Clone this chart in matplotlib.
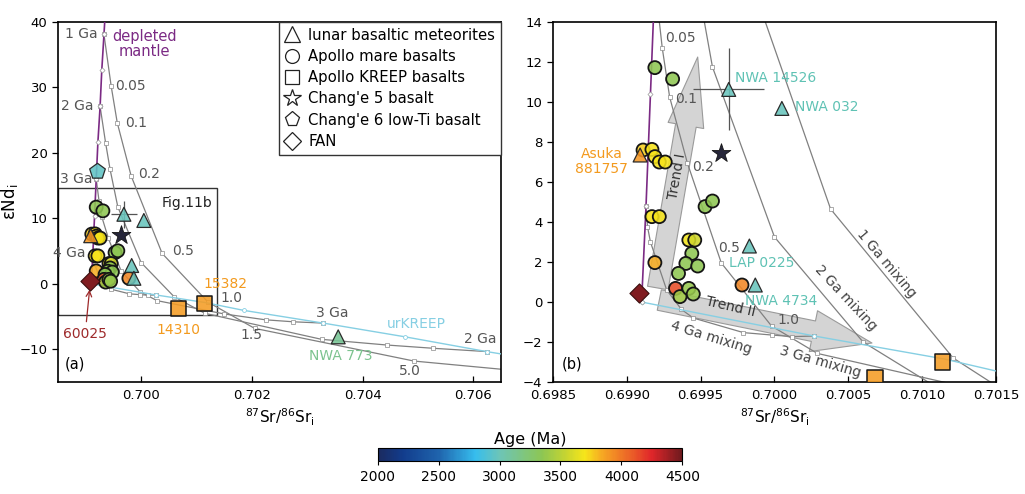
import numpy as np
import matplotlib
matplotlib.use("Agg")
import matplotlib.pyplot as plt
from matplotlib.colors import LinearSegmentedColormap, Normalize
from matplotlib.cm import ScalarMappable
from matplotlib.lines import Line2D
from matplotlib.patches import Rectangle
from matplotlib.ticker import FormatStrFormatter

plt.rcParams['font.family'] = ['DejaVu Sans']
plt.rcParams['mathtext.default'] = 'regular'

# ---- model curves (87Sr/86Sr_i, eNd_i) ----
# depleted mantle, 4.5 Ga -> 1 Ga (0.5 Ga steps)
dm_sr = [0.69910, 0.69913, 0.69916, 0.69919, 0.69922, 0.69926, 0.69929, 0.69933, 0.69935]
dm_nd = [0.0, 4.8, 10.4, 16.0, 21.6, 27.1, 32.6, 38.1, 41.0]

# urKREEP evolution
kreep_sr = [0.69910, 0.70027, 0.70115, 0.70185, 0.70329, 0.70477, 0.70624, 0.70700]
kreep_nd = [0.0, -1.7, -2.85, -4.05, -6.0, -8.1, -10.35, -11.4]

# mixing curves DM -> urKREEP
mix1_sr = [0.69933, 0.69946, 0.69957, 0.69982, 0.70038, 0.70121, 0.70205, 0.70493, 0.70720]
mix1_nd = [38.1, 30.2, 24.6, 16.5, 4.65, -2.8, -6.8, -11.8, -13.6]
mix2_sr = [0.69926, 0.69936, 0.69944, 0.69958, 0.70000, 0.70060, 0.70115, 0.70326, 0.70444, 0.70528, 0.70624]
mix2_nd = [27.1, 21.5, 17.5, 11.75, 3.25, -2.0, -4.5, -8.48, -9.35, -9.85, -10.35]
mix3_sr = [0.69919, 0.69924, 0.69929, 0.69941, 0.69964, 0.69998, 0.70029, 0.70150, 0.70225, 0.70275, 0.70329]
mix3_nd = [16.0, 12.7, 10.25, 6.95, 1.95, -1.2, -2.57, -4.6, -5.5, -5.8, -6.0]
mix4_sr = [0.69913, 0.69914, 0.69916, 0.69927, 0.69937, 0.69945, 0.69979, 0.69998, 0.70012, 0.70027]
mix4_nd = [4.8, 3.77, 3.0, 0.6, -0.37, -0.8, -1.53, -1.65, -1.73, -1.7]

# ---- samples ----
mare_sr = [0.69919, 0.69931, 0.69911, 0.69917, 0.69919, 0.69922, 0.69926, 0.69953, 0.69958,
           0.69917, 0.69922, 0.69919, 0.69942, 0.69946, 0.69944, 0.69940, 0.69948, 0.69935,
           0.69933, 0.69936, 0.69942, 0.69945, 0.69978]
mare_nd = [11.72, 11.15, 7.6, 7.63, 7.27, 7.0, 7.0, 4.77, 5.05,
           4.27, 4.27, 1.97, 3.1, 3.1, 2.43, 1.93, 1.8, 1.43,
           0.68, 0.27, 0.68, 0.4, 0.85]
mare_age = [3350, 3350, 3750, 3700, 3700, 3700, 3700, 3350, 3350,
            3700, 3700, 3830, 3680, 3580, 3350, 3350, 3350, 3350,
            4130, 3420, 3380, 3380, 3950]

met_names = ['NWA 14526', 'NWA 032', 'LAP 0225', 'NWA 4734', 'Asuka 881757', 'NWA 773']
met_sr = [0.69969, 0.70005, 0.69983, 0.69987, 0.69909, 0.70356]
met_nd = [10.63, 9.68, 2.8, 0.85, 7.35, -8.1]
met_age = [2980, 2980, 2980, 2980, 3900, 3120]
nwa14526_xerr = 0.00024
nwa14526_yerr = 2.05

kreep_names = ['15382', '14310']
kreepb_sr = [0.70114, 0.70068]
kreepb_nd = [-3.0, -3.8]
kreepb_age = [3880, 3880]

ce5_sr, ce5_nd, ce5_age = [0.69964], [7.45], [2000]
ce6_sr, ce6_nd, ce6_age = [0.69921], [17.2], [2950]
fan_sr, fan_nd, fan_age = [0.69908], [0.47], [4460]

age_cmap = LinearSegmentedColormap.from_list('age', [
    (0.0, '#1b2a5e'), (0.08, '#123c8c'), (0.2, '#1f64ad'), (0.32, '#36bdee'),
    (0.4, '#6dc5b7'), (0.54, '#8dc653'), (0.62, '#c8d530'), (0.68, '#f6e61a'),
    (0.74, '#f6a623'), (0.84, '#ea5a28'), (0.9, '#e0262a'), (1.0, '#6e1a1e')])
norm = Normalize(2000, 4500)

purple = '#7b2a84'
cyan = '#86cfe3'
grey = '#808080'
teal = '#5fc2b4'
orange = '#f39a1e'
numc = '#555555'


def face(ages, a=0.88):
    fc = age_cmap(norm(np.asarray(ages)))
    fc[:, 3] = a
    return fc


fig = plt.figure(figsize=(10.25, 4.94), dpi=100)
ax1 = fig.add_axes([0.0566, 0.2267, 0.4322, 0.7287])
ax2 = fig.add_axes([0.5395, 0.2267, 0.4322, 0.7287])


def draw_common(ax):
    for xs, ys in [(mix1_sr, mix1_nd), (mix2_sr, mix2_nd), (mix3_sr, mix3_nd), (mix4_sr, mix4_nd)]:
        ax.plot(xs, ys, color=grey, lw=0.9, marker='s', ms=2.6, mfc='white',
                mec='#8a8a8a', mew=0.5, zorder=2)
    ax.plot(kreep_sr, kreep_nd, color=cyan, lw=1.0, marker='o', ms=2.8, mfc='white',
            mec=cyan, mew=0.6, markevery=[0, 1, 3, 4, 5, 6], zorder=3)
    ax.plot(dm_sr, dm_nd, color=purple, lw=1.2, marker='D', ms=2.6, mfc='white',
            mec='#999999', mew=0.5, zorder=3)
    ax.errorbar(met_sr[0], met_nd[0], xerr=nwa14526_xerr, yerr=nwa14526_yerr, fmt='none',
                ecolor='#555555', elinewidth=0.9, zorder=4)
    ax.scatter(mare_sr, mare_nd, s=88, marker='o', facecolors=face(mare_age),
               edgecolors='#151515', linewidths=1.3, zorder=5)
    ax.scatter(kreepb_sr, kreepb_nd, s=120, marker='s', facecolors=face(kreepb_age),
               edgecolors='#151515', linewidths=1.1, zorder=6)
    ax.scatter(met_sr, met_nd, s=100, marker='^', facecolors=face(met_age),
               edgecolors='#2a2a2a', linewidths=0.9, zorder=6)
    ax.scatter(ce5_sr, ce5_nd, s=200, marker='*', facecolors='#26263a',
               edgecolors='#151515', linewidths=0.6, zorder=6)
    ax.scatter(ce6_sr, ce6_nd, s=140, marker='p', facecolors=face(ce6_age),
               edgecolors='#2a2a2a', linewidths=0.9, zorder=6)
    ax.scatter(fan_sr, fan_nd, s=95, marker='D', facecolors=face(fan_age, 1.0),
               edgecolors='#3a0d0d', linewidths=0.8, zorder=6)
    for s in ax.spines.values():
        s.set_linewidth(1.2)
    ax.tick_params(axis='x', direction='in', length=4, width=0.9, labelsize=9.5, pad=5)
    ax.tick_params(axis='y', direction='out', length=4, width=0.9, labelsize=9.5)
    ax.set_xlabel('$^{87}$Sr/$^{86}$Sr$_i$', fontsize=11, labelpad=3)


draw_common(ax1)
draw_common(ax2)

# ---- panel (a) ----
ax1.set_xlim(0.6985, 0.7065)
ax1.set_ylim(-15, 40)
ax1.set_xticks([0.700, 0.702, 0.704, 0.706])
ax1.xaxis.set_major_formatter(FormatStrFormatter('%.3f'))
ax1.set_yticks([-10, 0, 10, 20, 30, 40])
ax1.set_ylabel('εNd$_i$', fontsize=12)
ax1.yaxis.set_label_coords(-0.085, 0.5)

ax1.add_patch(Rectangle((0.6985, -4.8), 0.70138 - 0.6985, 19.4, fill=False,
                        ec='#333333', lw=1.0, zorder=1))
ax1.text(0.70128, 12.3, 'Fig.11b', ha='right', va='center', fontsize=10, color='#222222')
ax1.text(0.70006, 36.6, 'depleted\nmantle', ha='center', va='center', fontsize=10.5,
         color=purple, linespacing=1.0)
for x, y, t in [(0.69921, 38.1, '1 Ga'), (0.69914, 27.1, '2 Ga'),
                (0.69912, 16.0, '3 Ga'), (0.69899, 4.65, '4 Ga')]:
    ax1.text(x, y, t, ha='right', va='center', fontsize=10, color=numc)
for x, y, t in [(0.69953, 30.2, '0.05'), (0.69971, 24.6, '0.1'), (0.69995, 16.8, '0.2'),
                (0.70056, 5.05, '0.5'), (0.70143, -2.2, '1.0'), (0.70179, -7.8, '1.5'),
                (0.70466, -13.3, '5.0'), (0.70316, -4.5, '3 Ga'), (0.70584, -8.45, '2 Ga')]:
    ax1.text(x, y, t, ha='left', va='center', fontsize=10, color=numc)
ax1.text(0.70497, -6.2, 'urKREEP', ha='center', va='center', fontsize=10, color=cyan)
ax1.text(0.70360, -11.1, met_names[5], ha='center', va='center', fontsize=10, color='#7cc38f')
ax1.text(0.70152, 0.0, kreep_names[0], ha='center', va='center', fontsize=10, color=orange)
ax1.text(0.70068, -7.1, kreep_names[1], ha='center', va='center', fontsize=10, color=orange)
ax1.annotate('60025', xy=(0.69907, -0.9), xytext=(0.69899, -7.7), ha='center', va='center',
             fontsize=10, color='#9e2a2b',
             arrowprops=dict(arrowstyle='->', color='#9e2a2b', lw=0.9, shrinkA=2, shrinkB=0))
ax1.text(0.015, 0.05, '(a)', transform=ax1.transAxes, fontsize=10.5, va='center')

handles = [Line2D([], [], ls='none', marker=m, ms=ms, mfc='white', mec='#222222', mew=0.9)
           for m, ms in [('^', 11), ('o', 10), ('s', 10), ('*', 13), ('p', 11), ('D', 9)]]
labels = ['lunar basaltic meteorites', 'Apollo mare basalts', 'Apollo KREEP basalts',
          "Chang'e 5 basalt", "Chang'e 6 low-Ti basalt", 'FAN']
leg = ax1.legend(handles, labels, loc='upper right', bbox_to_anchor=(1.0, 1.0),
                 borderaxespad=0, fontsize=10.7, frameon=True, fancybox=False,
                 edgecolor='#333333', framealpha=1, labelspacing=0.42, handlelength=1.0,
                 handletextpad=0.6, borderpad=0.38)
leg.get_frame().set_linewidth(1.0)
leg.set_zorder(10)

# ---- panel (b) ----
ax2.set_xlim(0.6985, 0.7015)
ax2.set_ylim(-4, 14)
ax2.set_xticks(np.arange(0.6985, 0.70151, 0.0005))
ax2.xaxis.set_major_formatter(FormatStrFormatter('%.4f'))
ax2.set_yticks(np.arange(-4, 15, 2))

arrow_kw = dict(fc='#d4d4d4', ec='#9a9a9a', lw=0.8, shrinkA=0, shrinkB=0)
ax2.annotate('', xy=(0.69948, 12.25), xytext=(0.69921, 0.7), zorder=1,
             arrowprops=dict(arrowstyle='simple,head_length=5.0,head_width=2.6,tail_width=1.5',
                             mutation_scale=10, **arrow_kw))
ax2.annotate('', xy=(0.70066, -2.05), xytext=(0.69922, 0.1), zorder=1,
             arrowprops=dict(arrowstyle='simple,head_length=4.3,head_width=3.0,tail_width=1.5',
                             mutation_scale=10, **arrow_kw))
ax2.text(0.69934, 6.3, 'Trend I', rotation=80, ha='center', va='center', fontsize=10, color='#333333')
ax2.text(0.69970, -0.25, 'Trend II', rotation=-13, ha='center', va='center', fontsize=10, color='#333333')

for x, y, t in [(0.69926, 13.2, '0.05'), (0.69933, 10.15, '0.1'), (0.69944, 6.77, '0.2'),
                (0.69962, 2.7, '0.5'), (0.70002, -0.9, '1.0')]:
    ax2.text(x, y, t, ha='left', va='center', fontsize=10, color=numc)
for x, y, t, r in [(0.70076, 1.93, '1 Ga mixing', -50), (0.70048, 0.18, '2 Ga mixing', -47),
                   (0.70031, -2.98, '3 Ga mixing', -16), (0.69957, -1.78, '4 Ga mixing', -17)]:
    ax2.text(x, y, t, rotation=r, ha='center', va='center', fontsize=10, color='#444444')

for x, y, t in [(0.69973, 11.2, met_names[0]), (0.70014, 9.73, met_names[1]),
                (0.69969, 1.97, met_names[2]), (0.69980, 0.07, met_names[3])]:
    ax2.text(x, y, t, ha='left', va='center', fontsize=10, color=teal)
ax2.text(0.69883, 7.03, 'Asuka\n881757', ha='center', va='center', fontsize=10,
         color=orange, linespacing=1.1)
ax2.text(0.02, 0.05, '(b)', transform=ax2.transAxes, fontsize=10.5, va='center')

# ---- colorbar ----
cax = fig.add_axes([0.3685, 0.0668, 0.2972, 0.0269])
cb = fig.colorbar(ScalarMappable(norm=norm, cmap=age_cmap), cax=cax, orientation='horizontal',
                  ticks=[2000, 2500, 3000, 3500, 4000, 4500])
cb.outline.set_linewidth(0.8)
cax.tick_params(labelsize=10, length=3, width=0.8)
cax.set_title('Age (Ma)', fontsize=11.5, pad=3)

fig.savefig('out.png', dpi=100)
